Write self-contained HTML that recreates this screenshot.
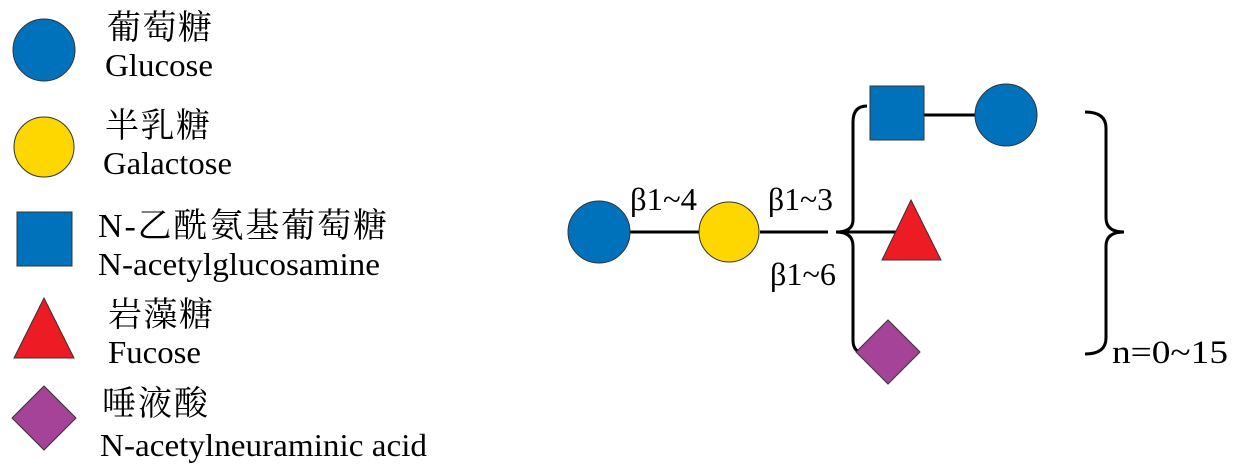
<!DOCTYPE html>
<html><head><meta charset="utf-8"><style>
html,body{margin:0;padding:0;background:#fff;width:1239px;height:475px;overflow:hidden}
svg text{font-family:"Liberation Serif","Noto Serif CJK SC",serif;font-size:32px;fill:#000}
svg text.c{font-size:34px}
</style></head><body>
<svg width="1239" height="475" viewBox="0 0 1239 475" xmlns="http://www.w3.org/2000/svg">
<g stroke="#333" stroke-width="1">
<circle cx="44" cy="50" r="31" fill="#0072bc"/>
<circle cx="44" cy="147" r="30" fill="#ffd700"/>
<rect x="17" y="212" width="55" height="54" fill="#0072bc"/>
<polygon points="44,298 74,358 14,358" fill="#ed1c24"/>
<polygon points="44,386 76,418 44,450 12,418" fill="#a54399"/>
</g>
<text class="c" x="107" y="39" textLength="105" lengthAdjust="spacing">葡萄糖</text>
<text x="105" y="76" textLength="108" lengthAdjust="spacingAndGlyphs">Glucose</text>
<text class="c" x="105" y="137" textLength="105" lengthAdjust="spacing">半乳糖</text>
<text x="103" y="174" textLength="129" lengthAdjust="spacingAndGlyphs">Galactose</text>
<text class="c" x="98" y="237" textLength="289" lengthAdjust="spacing">N-乙酰氨基葡萄糖</text>
<text x="98" y="275" textLength="282" lengthAdjust="spacingAndGlyphs">N-acetylglucosamine</text>
<text class="c" x="108" y="326" textLength="105" lengthAdjust="spacing">岩藻糖</text>
<text x="108" y="363" textLength="93" lengthAdjust="spacingAndGlyphs">Fucose</text>
<text class="c" x="102" y="415" textLength="106" lengthAdjust="spacing">唾液酸</text>
<text x="100" y="456" textLength="327" lengthAdjust="spacingAndGlyphs">N-acetylneuraminic acid</text>

<g stroke="#000" stroke-width="3" fill="none">
<line x1="630" y1="232" x2="700" y2="232"/>
<line x1="760" y1="232" x2="828" y2="232"/>
<line x1="836" y1="232" x2="900" y2="232"/>
<line x1="924" y1="115" x2="975" y2="115"/>
<path d="M867,106 Q853,106 853,122 L853,220 Q853,232 836,232 Q853,232 853,246 L853,340 Q853,350 860,352"/>
<path d="M1085,112 Q1106,112 1106,128 L1106,218 Q1106,232 1124,232 Q1106,232 1106,246 L1106,338 Q1106,354 1085,354"/>
</g>
<g stroke="#333" stroke-width="1">
<circle cx="599" cy="232" r="31" fill="#0072bc"/>
<circle cx="729" cy="232" r="30" fill="#ffd700"/>
<rect x="870" y="86" width="54" height="54" fill="#0072bc"/>
<circle cx="1006" cy="115" r="31" fill="#0072bc"/>
<polygon points="911,200 941,260 882,260" fill="#ed1c24"/>
<polygon points="888,320 920,352 888,384 856,352" fill="#a54399"/>
</g>
<text x="630" y="210" textLength="67" lengthAdjust="spacingAndGlyphs">β1~4</text>
<text x="768" y="210" textLength="65" lengthAdjust="spacingAndGlyphs">β1~3</text>
<text x="770" y="285" textLength="66" lengthAdjust="spacingAndGlyphs">β1~6</text>
<text x="1112" y="363" style="font-size:33px" textLength="116" lengthAdjust="spacingAndGlyphs">n=0~15</text>
</svg>
</body></html>
